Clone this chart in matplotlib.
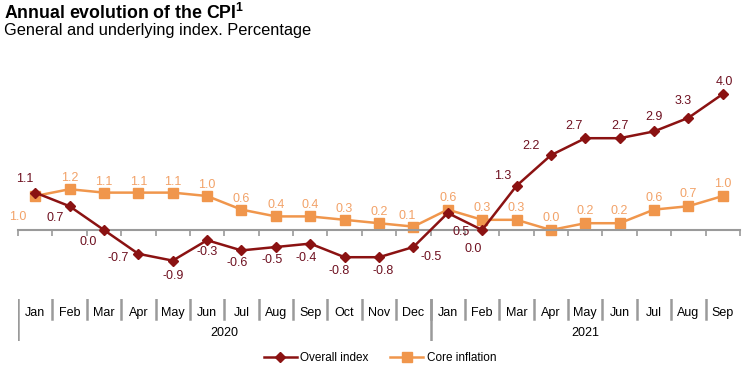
import matplotlib.pyplot as plt

plt.rcParams['font.family'] = ['Liberation Sans', 'DejaVu Sans']
plt.rcParams['mathtext.fontset'] = 'custom'
plt.rcParams['mathtext.rm'] = 'Liberation Sans'
plt.rcParams['mathtext.bf'] = 'Liberation Sans:bold'

months = ['Jan', 'Feb', 'Mar', 'Apr', 'May', 'Jun', 'Jul', 'Aug', 'Sep', 'Oct', 'Nov', 'Dec',
          'Jan', 'Feb', 'Mar', 'Apr', 'May', 'Jun', 'Jul', 'Aug', 'Sep']
years = ['2020', '2021']
year_len = [12, 9]

overall = [1.1, 0.7, 0.0, -0.7, -0.9, -0.3, -0.6, -0.5, -0.4, -0.8, -0.8, -0.5,
           0.5, 0.0, 1.3, 2.2, 2.7, 2.7, 2.9, 3.3, 4.0]
core = [1.0, 1.2, 1.1, 1.1, 1.1, 1.0, 0.6, 0.4, 0.4, 0.3, 0.2, 0.1,
        0.6, 0.3, 0.3, 0.0, 0.2, 0.2, 0.6, 0.7, 1.0]

# label offsets in pixels (dx, dy)
overall_off = [(-10, 14), (-14, -12), (-16, -12), (-20, -4), (0, -15), (0, -12), (-4, -13),
               (-4, -13), (-4, -14), (-5, -14), (4, -14), (18, -10),
               (13, -19), (-9, -19), (-14, 10), (-20, 9), (-11, 12), (0, 12), (0, 14),
               (-5, 17), (2, 12)]
core_off = [(-17, -21)] + [(0, 11)] * 10 + [(-6, 11)] + [(0, 12)] * 9

c_over = '#8b1212'
c_core = '#f0964c'

fig = plt.figure(figsize=(7.47, 3.69), dpi=100)
W, H = 747, 369
ax = fig.add_axes([18 / W, (H - 280) / H, 722 / W, 220 / H])
x = list(range(len(months)))

ax.plot(x, core, color=c_core, lw=1.8, marker='s', ms=7, zorder=2, label='Core inflation')
ax.plot(x, overall, color=c_over, lw=1.8, marker='D', ms=5, zorder=3, label='Overall index')

for i in x:
    ax.annotate(f'{overall[i]:.1f}', (i, overall[i]), xytext=overall_off[i],
                textcoords='offset pixels', ha='center', va='center', fontsize=9,
                color='#6e1020')
    ax.annotate(f'{core[i]:.1f}', (i, core[i]), xytext=core_off[i],
                textcoords='offset pixels', ha='center', va='center', fontsize=9,
                color='#f2a268')

ax.set_xlim(-0.5, len(months) - 0.5)
ax.set_ylim(-1.47, 5.0)
for s in ['top', 'right', 'left']:
    ax.spines[s].set_visible(False)
ax.spines['bottom'].set_position(('data', 0))
ax.spines['bottom'].set_color('#9a9a9a')
ax.spines['bottom'].set_linewidth(1.5)
ax.set_xticks([i - 0.5 for i in range(len(months) + 1)])
ax.set_xticklabels([])
ax.tick_params(axis='x', direction='out', length=4, width=1.2, color='#9a9a9a')
ax.set_yticks([])

# category table
tb = fig.add_axes([18 / W, (H - 341) / H, 722 / W, 42 / H])
tb.set_xlim(-0.5, len(months) - 0.5)
tb.set_ylim(0, 1)
tb.axis('off')
for i, m in enumerate(months):
    tb.text(i, 0.66, m, ha='center', va='center', fontsize=9)
    if i > 0:
        tb.plot([i - 0.5, i - 0.5], [1, 0.52], color='#9a9a9a', lw=1.8)
start = 0
for y, n in zip(years, year_len):
    tb.text(start + n / 2 - 0.5, 0.19, y, ha='center', va='center', fontsize=9)
    tb.plot([start - 0.5, start - 0.5], [1, 0], color='#9a9a9a', lw=1.8)
    start += n

h, l = ax.get_legend_handles_labels()
fig.legend(h[::-1], l[::-1], loc='center', bbox_to_anchor=(380 / W, 1 - 358 / H), ncol=2,
           frameon=False, fontsize=8.5, handlelength=2.8, columnspacing=1.8, handletextpad=0.3)

fig.text(4 / W, 1 - 13 / H, r'Annual evolution of the CPI$^{\mathbf{1}}$', fontsize=12.8,
         fontweight='bold', va='center')
fig.text(4 / W, 1 - 31 / H, 'General and underlying index. Percentage', fontsize=11.8, va='center')

fig.savefig('out.png', dpi=100)
